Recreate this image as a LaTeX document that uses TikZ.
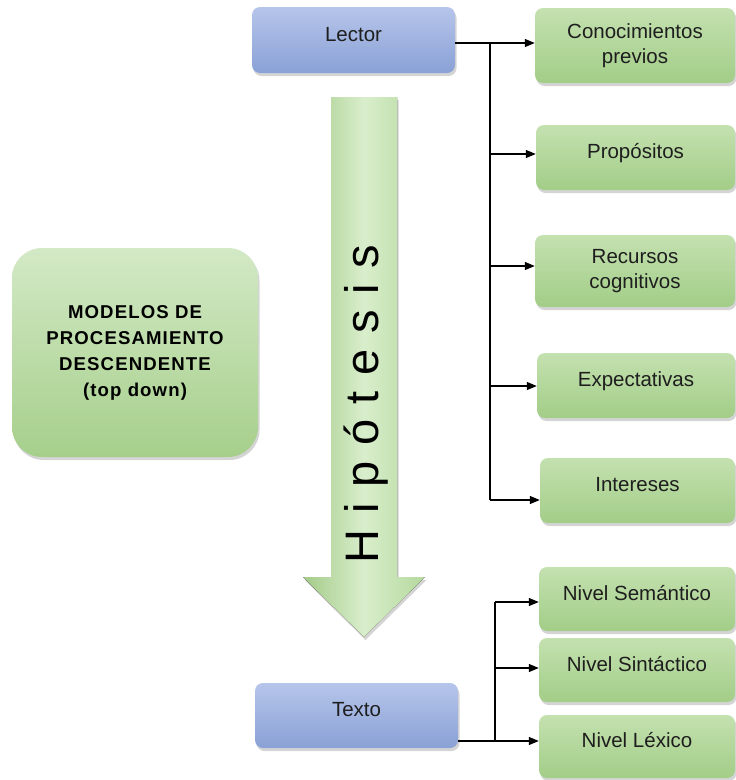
\documentclass[tikz,border=0pt]{standalone}
\usepackage{fontspec}
\setmainfont{Liberation Sans}
\usetikzlibrary{shadows,arrows.meta}
\definecolor{gtop}{HTML}{C4E1B0}
\definecolor{gbot}{HTML}{A2CD87}
\definecolor{btop}{HTML}{B6C5EA}
\definecolor{bbot}{HTML}{8AA1D6}
\definecolor{mtop}{HTML}{D3E9C6}
\definecolor{mbot}{HTML}{A6CF8B}
\definecolor{aleft}{HTML}{A3CB88}
\definecolor{amid}{HTML}{D9EECC}
\definecolor{aright}{HTML}{B4D99C}
\definecolor{txt}{HTML}{1E1E1E}
\begin{document}
\begin{tikzpicture}[x=1pt,y=-1pt,
  softshadow/.style={drop shadow={shadow xshift=1.5pt,shadow yshift=-3pt,opacity=0.28,fill=black!60}},
  gbox/.style={rounded corners=8pt,top color=gtop,bottom color=gbot,draw=none,softshadow,
    font=\fontsize{20.5}{25}\selectfont,text=txt,inner sep=0pt},
  bbox/.style={rounded corners=8pt,top color=btop,bottom color=bbot,draw=none,softshadow,
    font=\fontsize{20.5}{25}\selectfont,text=txt,inner sep=0pt},
  oneline/.style={text height=15pt,text depth=13pt},
  twoline/.style={align=center},
  modbox/.style={rounded corners=30pt,top color=mtop,bottom color=mbot,draw=none,softshadow,
    font=\fontsize{18.6}{26}\selectfont\bfseries\addfontfeature{LetterSpace=6},text=black,
    align=center,inner sep=0pt},
  bigarrow/.style={left color=aleft,right color=aright,middle color=amid,draw=none,softshadow},
  conn/.style={line width=1.2pt,black},
  arr/.style={conn,-{Triangle[length=10pt,width=8pt]}}
]
\useasboundingbox (0,0) rectangle (736,780);

% big arrow
\fill[bigarrow] (331,97) -- (397,97) -- (397,577) -- (425,577) -- (364,637) -- (303,577) -- (331,577) -- cycle;
\node[rotate=90,anchor=base,font=\fontsize{47}{50}\selectfont,inner sep=0pt,text=black] (hip) at (378,404)
  {\makebox[318pt][s]{H\hfil i\hfil p\hfil ó\hfil t\hfil e\hfil s\hfil i\hfil s}};

% left box
\node[modbox,minimum width=246pt,minimum height=209pt] (modelos) at (135,352.5)
  {MODELOS DE\\PROCESAMIENTO\\DESCENDENTE\\(top down)};

% blue boxes
\node[bbox,oneline,minimum width=203pt,minimum height=66pt] (lector) at (353.5,40) {Lector};
\node[bbox,oneline,minimum width=203pt,minimum height=65pt] (texto) at (356.5,715.5) {Texto};

% green boxes (reader)
\node[gbox,twoline,minimum width=200pt,minimum height=75pt] (conoc) at (635,45.5) {Conocimientos\\previos};
\node[gbox,oneline,minimum width=199pt,minimum height=65pt] (prop) at (635.5,157.5) {Propósitos};
\node[gbox,twoline,minimum width=200pt,minimum height=72pt] (recur) at (635,271) {Recursos\\cognitivos};
\node[gbox,oneline,minimum width=198pt,minimum height=65pt] (expec) at (636,385.5) {Expectativas};
\node[gbox,oneline,minimum width=195pt,minimum height=65pt] (inter) at (637.5,490.5) {Intereses};

% green boxes (text)
\node[gbox,oneline,minimum width=196pt,minimum height=64pt] (sem) at (637,599) {Nivel Semántico};
\node[gbox,oneline,minimum width=196pt,minimum height=64pt] (sin) at (637,670) {Nivel Sintáctico};
\node[gbox,oneline,minimum width=196pt,minimum height=63pt] (lex) at (637,746.5) {Nivel Léxico};

% connectors reader
\coordinate (r0) at (490,43);
\coordinate (r1) at (490,154);
\coordinate (r2) at (490,266);
\coordinate (r3) at (490,386);
\coordinate (r4) at (490,500);
\draw[conn] (lector.east |- r0) -- (r0);
\draw[conn] (r0) -- (r4);
\draw[arr] (r0) -- (conoc.west |- r0);
\draw[arr] (r1) -- (prop.west |- r1);
\draw[arr] (r2) -- (recur.west |- r2);
\draw[arr] (r3) -- (expec.west |- r3);
\draw[arr] (r4) -- (inter.west |- r4);

% connectors text
\coordinate (t0) at (495,741);
\coordinate (t1) at (495,668);
\coordinate (t2) at (495,602);
\draw[conn] (texto.east |- t0) -- (t0);
\draw[conn] (t0) -- (t2);
\draw[arr] (t0) -- (lex.west |- t0);
\draw[arr] (t1) -- (sin.west |- t1);
\draw[arr] (t2) -- (sem.west |- t2);
\end{tikzpicture}
\end{document}
